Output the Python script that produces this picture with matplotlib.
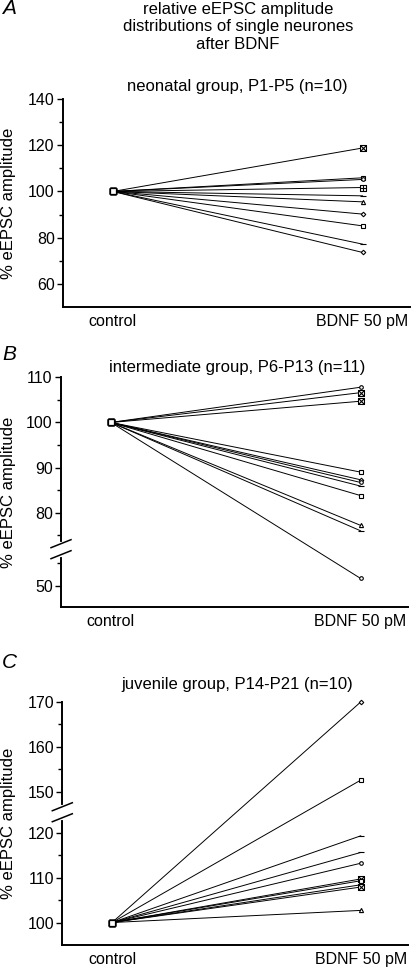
import numpy as np
import matplotlib
matplotlib.use("Agg")
import matplotlib.pyplot as plt
from matplotlib.path import Path
from matplotlib.ticker import FixedLocator, NullFormatter

plt.rcParams['font.family'] = ['Liberation Sans', 'DejaVu Sans']

conditions = ["control", "BDNF 50 pM"]

# Panel A: neonatal group
a_title = "neonatal group, P1-P5 (n=10)"
a_bdnf = [118.8, 105.9, 105.2, 101.7, 98.1, 95.5, 90.2, 85.1, 77.2, 73.6]
a_marks = ["boxx", "s", "o", "boxp", "_", "^", "D", "s", "_", "D"]

# Panel B: intermediate group
b_title = "intermediate group, P6-P13 (n=11)"
b_bdnf = [107.8, 106.6, 104.7, 89.0, 87.3, 86.7, 85.9, 83.8, 77.2, 76.0, 51.6]
b_marks = ["o", "boxx", "boxx", "s", "D", "o", "_", "s", "^", "_", "o"]

# Panel C: juvenile group
c_title = "juvenile group, P14-P21 (n=10)"
c_bdnf = [170.0, 152.6, 119.3, 115.6, 113.2, 109.7, 109.3, 108.4, 107.9, 102.7]
c_marks = ["D", "s", "_", "_", "o", "boxx", "s", "s", "boxx", "^"]

control_value = 100.0

suptitle = "relative eEPSC amplitude\ndistributions of single neurones\nafter BDNF"
ylabel = "% eEPSC amplitude"

# custom markers
boxx = Path([(-1, -1), (1, -1), (1, 1), (-1, 1), (-1, -1), (-1, -1), (1, 1), (-1, 1), (1, -1)],
            [Path.MOVETO, Path.LINETO, Path.LINETO, Path.LINETO, Path.CLOSEPOLY,
             Path.MOVETO, Path.LINETO, Path.MOVETO, Path.LINETO])
boxp = Path([(-1, -1), (1, -1), (1, 1), (-1, 1), (-1, -1), (0, -1), (0, 1), (-1, 0), (1, 0)],
            [Path.MOVETO, Path.LINETO, Path.LINETO, Path.LINETO, Path.CLOSEPOLY,
             Path.MOVETO, Path.LINETO, Path.MOVETO, Path.LINETO])
marker_map = {"boxx": (boxx, 4.3), "boxp": (boxp, 4.3), "s": ("s", 3.0),
              "o": ("o", 2.6), "D": ("D", 2.3), "^": ("^", 3.0), "_": ("_", 4.5)}


def make_break_scale(lo, hi, gap):
    k = gap / (hi - lo)

    def fwd(y):
        y = np.asarray(y, dtype=float)
        return np.where(y <= lo, y, np.where(y >= hi, y - (hi - lo) + gap, lo + (y - lo) * k))

    def inv(z):
        z = np.asarray(z, dtype=float)
        return np.where(z <= lo, z, np.where(z >= lo + gap, z + (hi - lo) - gap, lo + (z - lo) / k))
    return fwd, inv


W, H = 413, 969
fig = plt.figure(figsize=(W / 100, H / 100), dpi=100)


def px_axes(left, top, right, bottom):
    return fig.add_axes([left / W, 1 - bottom / H, (right - left) / W, (bottom - top) / H])


def draw_panel(ax, bdnf, marks, ylim, major, minor, brk=None):
    x = np.arange(len(conditions))
    if brk is not None:
        fwd, inv = make_break_scale(*brk)
        ax.set_yscale('function', functions=(fwd, inv))
    for val, m in zip(bdnf, marks):
        mk, ms = marker_map[m]
        ax.plot(x, [control_value, val], color='black', lw=0.7, zorder=2)
        ax.plot(x[1], val, linestyle='none', marker=mk, ms=ms, mfc='white', mec='black',
                mew=0.8, zorder=3, clip_on=False)
        ax.plot(x[0], control_value, linestyle='none', marker='s', ms=4.0, mfc='white',
                mec='black', mew=0.9, zorder=3, clip_on=False)
    ax.set_xlim(-0.2, 1.19)
    ax.set_ylim(*ylim)
    ax.set_xticks(x)
    ax.set_xticklabels(conditions, fontsize=11.5)
    ax.tick_params(axis='x', length=0, pad=5)
    ax.yaxis.set_major_locator(FixedLocator(major))
    ax.yaxis.set_minor_locator(FixedLocator(minor))
    ax.yaxis.set_minor_formatter(NullFormatter())
    ax.tick_params(axis='y', which='major', length=4, width=1.0, labelsize=11.5, pad=2)
    ax.tick_params(axis='y', which='minor', length=3, width=1.0)
    for s in ['top', 'right']:
        ax.spines[s].set_visible(False)
    for s in ['left', 'bottom']:
        ax.spines[s].set_linewidth(1.4)
    if brk is not None:
        lo, hi, gap = brk
        mid_val = (lo + hi) / 2.0
        ydisp = ax.transData.transform((0, mid_val))[1]
        yax = ax.transAxes.inverted().transform((0, ydisp))[1]
        hpx = ax.get_window_extent().height
        d = 5.5 / hpx
        tr = ax.transAxes
        ax.plot([0, 0], [yax - d, yax + d], transform=tr, color='white', lw=3, clip_on=False, zorder=5)
        sl = 4.0 / hpx
        wx = 10.0 / ax.get_window_extent().width
        for off in (d, -d):
            ax.plot([-wx, wx], [yax + off - sl, yax + off + sl], transform=tr, color='black',
                    lw=1.1, clip_on=False, zorder=6)


axA = px_axes(63, 99, 410, 307)
draw_panel(axA, a_bdnf, a_marks, (50, 140), [60, 80, 100, 120, 140], [70, 90, 110, 130])

axB = px_axes(61, 377.3, 408, 607.3)
draw_panel(axB, b_bdnf, b_marks, (45.2, 110), [50, 80, 90, 100, 110], [55, 75, 85, 95, 105],
           brk=(55, 75, 6.15))

axC = px_axes(62.3, 701.5, 408, 945)
draw_panel(axC, c_bdnf, c_marks, (95, 170.1), [100, 110, 120, 150, 160, 170], [105, 115, 155, 165],
           brk=(120, 150, 9.1))


def ftext(xp, yp, s, **kw):
    fig.text(xp / W, 1 - yp / H, s, **kw)


ftext(238, 27, suptitle, ha='center', va='center', fontsize=12, linespacing=1.2)
ftext(237.5, 87, a_title, ha='center', va='center', fontsize=12)
ftext(237.5, 367, b_title, ha='center', va='center', fontsize=12)
ftext(237.5, 685, c_title, ha='center', va='center', fontsize=12)
ftext(9, 8, "A", ha='center', va='center', fontsize=15, style='italic')
ftext(9, 354, "B", ha='center', va='center', fontsize=15, style='italic')
ftext(9, 663, "C", ha='center', va='center', fontsize=15, style='italic')
for yc in (203, 492, 823):
    ftext(9, yc, ylabel, ha='center', va='center', fontsize=12, rotation=90)

fig.savefig("out.png", dpi=100)
